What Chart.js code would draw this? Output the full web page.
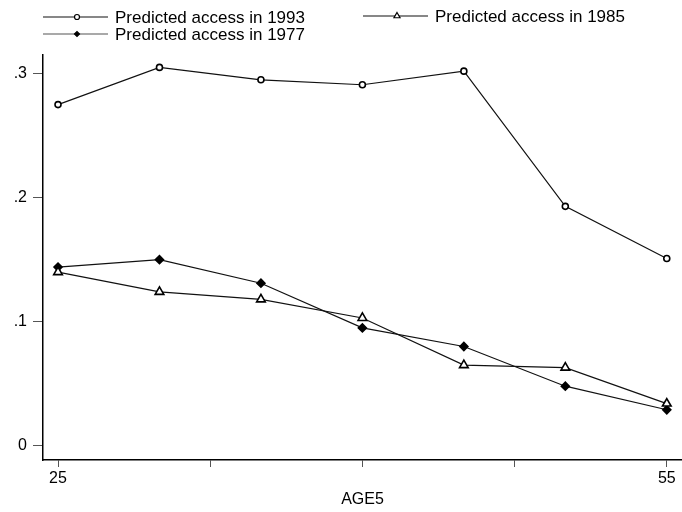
<!DOCTYPE html>
<html>
<head>
<meta charset="UTF-8">
<script src="https://cdn.jsdelivr.net/npm/chart.js"></script>
<style>
  html, body { margin: 0; padding: 0; background: #fff; }
  #wrap { width: 682px; height: 512px; }
</style>
</head>
<body>
<div id="wrap"><canvas id="accessChart" width="682" height="512"></canvas></div>
<script>
// AGE5 groups
var ages = [25, 30, 35, 40, 45, 50, 55];
var access1993 = [0.275, 0.305, 0.295, 0.291, 0.302, 0.193, 0.151];
var access1985 = [0.140, 0.124, 0.118, 0.103, 0.065, 0.063, 0.034];
var access1977 = [0.144, 0.150, 0.131, 0.095, 0.080, 0.048, 0.029];
var xTicks = [25, 32.5, 40, 47.5, 55];
var xLabelled = [25, 55];
var yTicks = [0, 0.1, 0.2, 0.3];

var ink = '#111';
var font = "'Liberation Sans', Arial, sans-serif";

function points(vals) {
    return ages.map(function (a, i) { return { x: a, y: vals[i] }; });
}

function series(label, vals, style, radius, fill) {
    return {
        label: label,
        data: points(vals),
        borderColor: ink,
        borderWidth: 1.2,
        pointStyle: style,
        pointRadius: radius,
        pointBorderWidth: 1.6,
        pointBorderColor: '#000',
        pointBackgroundColor: fill,
        fill: false,
        tension: 0,
        clip: false
    };
}

// legend laid out like the original (two rows, left aligned)
var legendSpots = [
    { ds: 0, x: 43, y: 17, r: 2.5 },
    { ds: 1, x: 363, y: 16, r: 3.5 },
    { ds: 2, x: 43, y: 34, r: 2.5 }
];

var legendPlugin = {
    id: 'stataLegend',
    afterDraw: function (chart) {
        var ctx = chart.ctx;
        ctx.save();
        legendSpots.forEach(function (s) {
            var ds = chart.data.datasets[s.ds];
            ctx.strokeStyle = s.ds === 2 ? '#555' : ink;
            ctx.lineWidth = 1.2;
            ctx.beginPath();
            ctx.moveTo(s.x, s.y);
            ctx.lineTo(s.x + 65, s.y);
            ctx.stroke();
            ctx.strokeStyle = '#000';
            ctx.fillStyle = ds.pointBackgroundColor;
            Chart.helpers.drawPoint(ctx, {
                pointStyle: ds.pointStyle,
                radius: s.r,
                borderWidth: 1.2,
                rotation: 0
            }, s.x + 34, s.y);
            ctx.fillStyle = '#000';
            ctx.font = '17px ' + font;
            ctx.textBaseline = 'middle';
            ctx.fillText(ds.label, s.x + 72, s.y + 1);
        });
        ctx.restore();
    }
};

var ctx = document.getElementById('accessChart').getContext('2d');
var chart = new Chart(ctx, {
    type: 'line',
    data: {
        datasets: [
            series('Predicted access in 1993', access1993, 'circle', 3, '#fff'),
            series('Predicted access in 1985', access1985, 'triangle', 5, '#fff'),
            series('Predicted access in 1977', access1977, 'rectRot', 4, '#000')
        ]
    },
    options: {
        responsive: false,
        animation: false,
        layout: { autoPadding: false, padding: { top: 55, right: 0, left: 0, bottom: 0 } },
        plugins: {
            legend: { display: false },
            tooltip: { enabled: false }
        },
        scales: {
            x: {
                type: 'linear',
                min: 24.26,
                max: 55.75,
                afterBuildTicks: function (scale) {
                    scale.ticks = xTicks.map(function (v) { return { value: v }; });
                },
                afterFit: function (scale) {
                    scale.height = 52;
                    scale.paddingLeft = 0;
                    scale.paddingRight = 0;
                },
                grid: {
                    drawOnChartArea: false,
                    drawTicks: true,
                    tickLength: 7,
                    tickColor: '#555',
                    tickWidth: 1
                },
                border: { display: true, color: '#000', width: 1.5 },
                ticks: {
                    autoSkip: false,
                    maxRotation: 0,
                    padding: 2,
                    color: '#000',
                    font: { family: font, size: 16 },
                    callback: function (v) {
                        return xLabelled.indexOf(v) >= 0 ? String(v) : '';
                    }
                },
                title: {
                    display: true,
                    text: 'AGE5',
                    color: '#000',
                    padding: { top: 0, bottom: 3 },
                    font: { family: font, size: 16 }
                }
            },
            y: {
                min: -0.0115,
                max: 0.315,
                afterBuildTicks: function (scale) {
                    scale.ticks = yTicks.map(function (v) { return { value: v }; });
                },
                afterFit: function (scale) {
                    scale.width = 43;
                    scale.paddingTop = 0;
                    scale.paddingBottom = 0;
                },
                grid: {
                    drawOnChartArea: false,
                    drawTicks: true,
                    tickLength: 10,
                    tickColor: '#555',
                    tickWidth: 1
                },
                border: { display: true, color: '#000', width: 1.5 },
                ticks: {
                    padding: 6,
                    color: '#000',
                    font: { family: font, size: 16 },
                    callback: function (v) {
                        return v === 0 ? '0' : String(Math.round(v * 10) / 10).replace('0.', '.');
                    }
                }
            }
        }
    },
    plugins: [legendPlugin]
});
</script>
</body>
</html>
